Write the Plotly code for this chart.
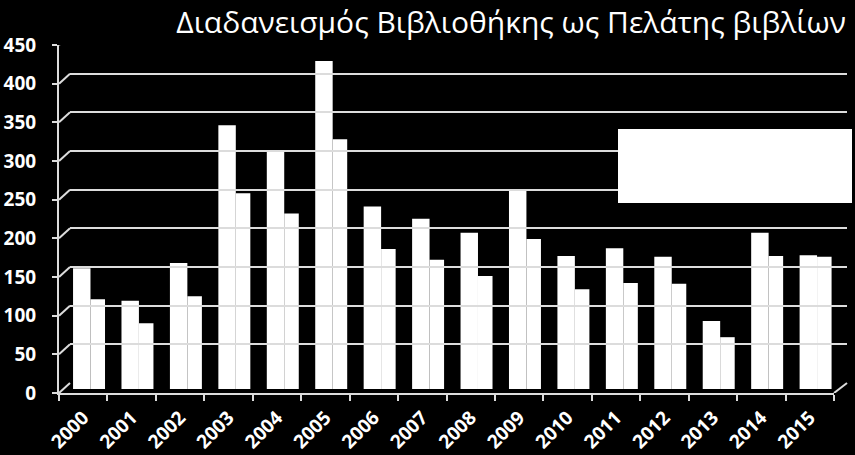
import plotly.graph_objects as go

years = ["2000", "2001", "2002", "2003", "2004", "2005", "2006", "2007",
         "2008", "2009", "2010", "2011", "2012", "2013", "2014", "2015"]
series_a = [156, 114, 163, 341, 309, 424, 236, 220, 202, 257, 172, 182, 171, 88, 202, 173]
series_b = [116, 85, 120, 253, 227, 323, 181, 167, 146, 194, 129, 137, 136, 67, 172, 171]
y_ticks = [0, 50, 100, 150, 200, 250, 300, 350, 400, 450]
title_text = "Διαδανεισμός Βιβλιοθήκης ως Πελάτης βιβλίων"

W, H = 855, 455
def px_x(p): return p / W
def px_y(p): return 1 - p / H

fig = go.Figure()
# empty helper traces so the axis-only subplots are drawn
fig.add_trace(go.Scatter(x=[None], y=[None], xaxis="x2", yaxis="y2",
                         mode="markers", hoverinfo="skip", showlegend=False))
fig.add_trace(go.Scatter(x=[years[0]], y=[None], xaxis="x", yaxis="y",
                         mode="markers", hoverinfo="skip", showlegend=False))
fig.add_trace(go.Bar(x=years, y=series_a, name="Σειρά 1", xaxis="x", yaxis="y3",
                     marker=dict(color="white", line=dict(width=0)),
                     width=0.36, offset=-0.21))
fig.add_trace(go.Bar(x=years, y=series_b, name="Σειρά 2", xaxis="x", yaxis="y3",
                     marker=dict(color="white", line=dict(width=0)),
                     width=0.30, offset=0.15))

tick_font = dict(family="Open Sans", size=19, color="white", weight="bold")
xtick_font = dict(family="Open Sans", size=19, color="white", weight="bold")
grid_col = "#dcdcdc"

shapes = []
for v in y_ticks:
    shapes.append(dict(type="line", xref="paper", yref="y", ysizemode="pixel",
                       yanchor=v, x0=px_x(59), x1=px_x(70), y0=0, y1=10,
                       line=dict(color=grid_col, width=2)))
shapes.append(dict(type="line", xref="paper", yref="y", ysizemode="pixel",
                   yanchor=0, x0=px_x(834), x1=px_x(847), y0=0, y1=10,
                   line=dict(color=grid_col, width=2)))
# legend box (blank white)
shapes.append(dict(type="rect", xref="paper", yref="paper",
                   x0=px_x(618), x1=px_x(852), y0=px_y(203), y1=px_y(129),
                   fillcolor="white", line=dict(width=0)))

fig.update_layout(
    width=W, height=H,
    margin=dict(l=0, r=0, t=0, b=0, autoexpand=False),
    paper_bgcolor="black", plot_bgcolor="rgba(0,0,0,0)",
    showlegend=False, barmode="overlay",
    title=dict(text=title_text, x=px_x(846), xanchor="right",
               y=px_y(22), yanchor="middle", yref="container",
               automargin=False, pad=dict(l=0, r=0, t=0, b=0),
               font=dict(family="Open Sans", size=30, color="white")),
    xaxis=dict(domain=[px_x(59), px_x(834)], anchor="y", type="category",
               categoryorder="array", categoryarray=years, range=[-0.5, 15.5],
               showgrid=False, zeroline=False, showline=True, automargin=False,
               linecolor=grid_col, linewidth=2, ticks="outside",
               tickson="boundaries", ticklen=6, tickwidth=2, tickcolor=grid_col,
               tickangle=-45, tickfont=xtick_font, ticklabelstandoff=4),
    yaxis=dict(domain=[px_y(393), px_y(45)], anchor="x", range=[0, 450],
               tickvals=y_ticks, showgrid=False, zeroline=False, automargin=False,
               showline=True, linecolor=grid_col, linewidth=2,
               ticks="outside", ticklen=5, tickwidth=2, tickcolor=grid_col,
               tickfont=tick_font, ticklabelstandoff=12),
    xaxis2=dict(domain=[px_x(70), px_x(847)], anchor="y2", range=[0, 1],
                showgrid=False, zeroline=False, showticklabels=False,
                showline=False, automargin=False),
    yaxis2=dict(domain=[px_y(383), px_y(35)], anchor="x2", range=[0, 450],
                tickvals=y_ticks, showgrid=True, gridcolor=grid_col,
                gridwidth=2, zeroline=False, showticklabels=False,
                showline=False, automargin=False),
    yaxis3=dict(domain=[px_y(389), px_y(41)], anchor="x", range=[0, 450],
                showgrid=False, zeroline=False, showticklabels=False,
                showline=False, automargin=False),
    shapes=shapes,
)

fig.write_html("out.html", config={"displayModeBar": False},
               post_script="document.body.style.margin='0';"
                           "document.body.style.background='black';"
                           "document.body.style.overflow='hidden';")
